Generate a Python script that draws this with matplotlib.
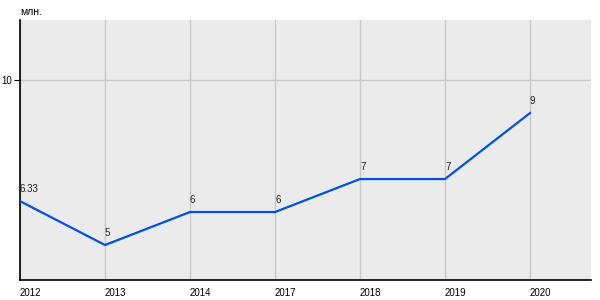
import matplotlib.pyplot as plt

# data
years = ["2012", "2013", "2014", "2017", "2018", "2019", "2020"]
values = [6.33, 5, 6, 6, 7, 7, 9]
labels = ["6.33", "5", "6", "6", "7", "7", "9"]

plt.rcParams['font.family'] = ['Liberation Sans', 'DejaVu Sans']

fig = plt.figure(figsize=(6, 3), dpi=100)
ax = fig.add_axes([20/600, 20/300, 571/600, 260/300])
ax.set_facecolor("#ebebeb")

x = list(range(len(years)))
ax.plot(x, values, color="#0050e6", linewidth=1.6, zorder=3)

for xi, v, lab in zip(x, values, labels):
    ax.annotate(lab, (xi, v), xytext=(0, 5), textcoords="offset points",
                ha="left", va="bottom", fontsize=7, color="#222222")

ax.set_xlim(0, 571/85)
ax.set_ylim(3.94, 11.82)

for xi in x:
    ax.axvline(xi, color="#c8c8c8", linewidth=1, zorder=1)
ax.axhline(10, color="#c8c8c8", linewidth=1, zorder=1)

ax.set_yticks([10])
ax.set_yticklabels(["10"], fontsize=7)
ax.set_xticks(x)
ax.set_xticklabels(years, fontsize=7, ha="left")
ax.tick_params(axis="x", length=0, pad=6)
ax.tick_params(axis="y", length=4, pad=2)

for s in ["top", "right"]:
    ax.spines[s].set_visible(False)
ax.spines["left"].set_linewidth(1.2)
ax.spines["bottom"].set_linewidth(1.2)

fig.text(20/600, 1 - 12/300, "млн.", fontsize=7.5, va="center", ha="left")

fig.savefig("out.png", dpi=100)
